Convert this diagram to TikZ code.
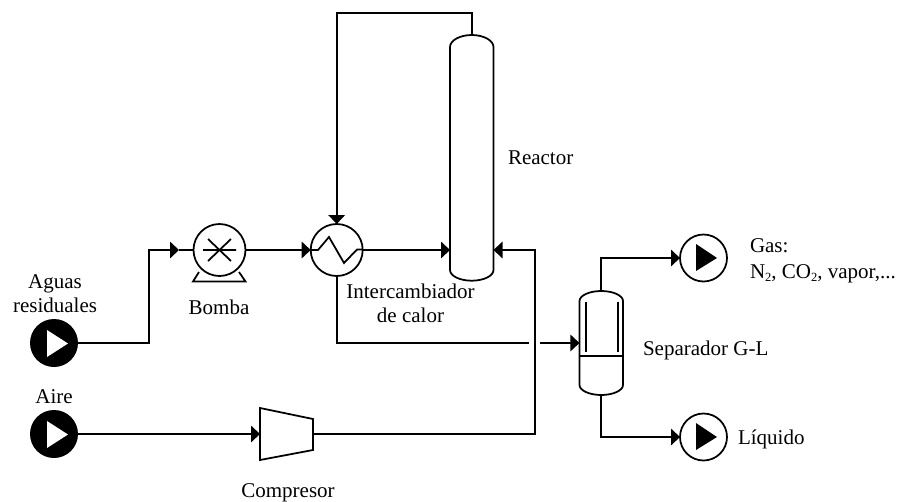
\documentclass[tikz,border=0pt]{standalone}
\usepackage{fontspec}
\setmainfont{Liberation Serif}
\usetikzlibrary{arrows.meta}
\tikzset{
  pipe/.style={line width=1.75pt,line join=miter},
  flow/.style={pipe,-{Triangle[length=9pt,width=16.5pt]}},
  equip/.style={line width=1.75pt},
  round equip/.style={circle,draw,line width=1.75pt,inner sep=0pt,outer sep=0pt},
  source/.style={circle,fill=black,inner sep=0pt,outer sep=0pt,minimum size=48pt},
  sink/.style={round equip,minimum size=47pt},
  body/.style={inner sep=0pt,outer sep=0pt},
  lab/.style={inner sep=0pt,outer sep=0pt,font=\fontsize{21}{24}\selectfont},
  labl/.style={lab,anchor=base west},
  labc/.style={lab,anchor=base}
}
\newcommand{\subtwo}{\raisebox{-3.5pt}{\fontsize{12.5}{14}\selectfont 2}}
\begin{document}
\begin{tikzpicture}[x=1pt,y=-1pt]
\useasboundingbox (0,0) rectangle (900,501);
% equipment
\node[source] (s1) at (54,343) {};
\node[source] (s2) at (54,434) {};
\fill[white] (47,330) -- (47,357) -- (68,343.5) -- cycle;
\fill[white] (47,421) -- (47,448) -- (68,434.5) -- cycle;
\node[round equip,minimum size=52pt] (pump) at (219.5,250) {};
\draw[equip] (203,250) -- (236,250) (208,239) -- (231,261) (208,261) -- (231,239);
\draw[equip] (199,272) -- (193,281.5) -- (245.5,281.5) -- (239,272);
\node[round equip,minimum size=52pt] (hx) at (336.7,250) {};
\draw[equip] (311,250) -- (318,250) -- (329,237) -- (344,263) -- (357,249.5) -- (363,249.5);
\node[body,minimum width=43.5pt,minimum height=245.7pt] (reactor) at (471.75,157.85) {};
\draw[equip] (450,47) .. controls (450,40.4) and (460,35) .. (471.75,35)
  .. controls (483.5,35) and (493.5,40.4) .. (493.5,47)
  -- (493.5,270) .. controls (493.5,276) and (483.5,280.7) .. (471.75,280.7)
  .. controls (460,280.7) and (450,276) .. (450,270) -- cycle;
\node[body,minimum width=43.5pt,minimum height=104pt] (sep) at (601.2,343) {};
\draw[equip] (579.5,301) .. controls (579.5,295.5) and (589.5,291) .. (601.2,291)
  .. controls (613,291) and (623,295.5) .. (623,301)
  -- (623,385) .. controls (623,390.5) and (613,395) .. (601.2,395)
  .. controls (589.5,395) and (579.5,390.5) .. (579.5,385) -- cycle;
\draw[equip] (579.5,356) -- (623,356) (585.7,301.7) -- (585.7,351.7) (617.7,301.7) -- (617.7,351.7);
\node[body,minimum width=53pt,minimum height=52pt] (comp) at (286.5,434) {};
\draw[equip] (260,408) -- (313,419) -- (313,450) -- (260,460) -- cycle;
\node[sink] (gas) at (703.5,258) {};
\fill (696,244) -- (696,271) -- (717,258) -- cycle;
\node[sink] (liq) at (703.5,437) {};
\fill (696,423) -- (696,450) -- (717,437) -- cycle;
% waypoints
\coordinate (b1) at (149,250);
\coordinate (a1) at (179,250);
\coordinate (top) at (336.7,13);
\coordinate (gapl) at (529,343);
\coordinate (gapr) at (540,343);
\coordinate (b2) at (535,250);
% connectors
\draw[flow] (s1.east) -| (b1) -- (a1);
\draw[pipe] (a1) -- (pump.west);
\draw[flow] (pump.east) -- (hx.west);
\draw[flow] (hx.east) -- (hx.east -| reactor.west);
\draw[flow] (reactor.north) |- (top) -- (hx.north);
\draw[pipe] (hx.south) |- (gapl);
\draw[flow] (gapr) -- (sep.west);
\draw[flow] (s2.east) -- (comp.west);
\draw[flow] (comp.east) -| (b2) -- (b2 -| reactor.east);
\draw[flow] (sep.north) |- (gas.west);
\draw[flow] (sep.south) |- (liq.west);
% labels
\node[labc] (t1) at (55,288) {Aguas};
\node[labc] (t2) at (55,312) {residuales};
\node[labc] (t3) at (219,314) {Bomba};
\node[labc] (t4) at (54,403) {Aire};
\node[labc] (t5) at (288,497) {Compresor};
\node[labl] (t6) at (508,164) {Reactor};
\node[labc] (t7) at (410.5,298) {Intercambiador};
\node[labc] (t8) at (410.5,322.7) {de calor};
\node[labl] (t9) at (643,355) {Separador G-L};
\node[labl] (t10) at (750,252) {Gas:};
\node[labl] (t11) at (750,278) {N\subtwo, CO\subtwo, vapor,...};
\node[labl] (t12) at (738,444) {Líquido};
\end{tikzpicture}
\end{document}
